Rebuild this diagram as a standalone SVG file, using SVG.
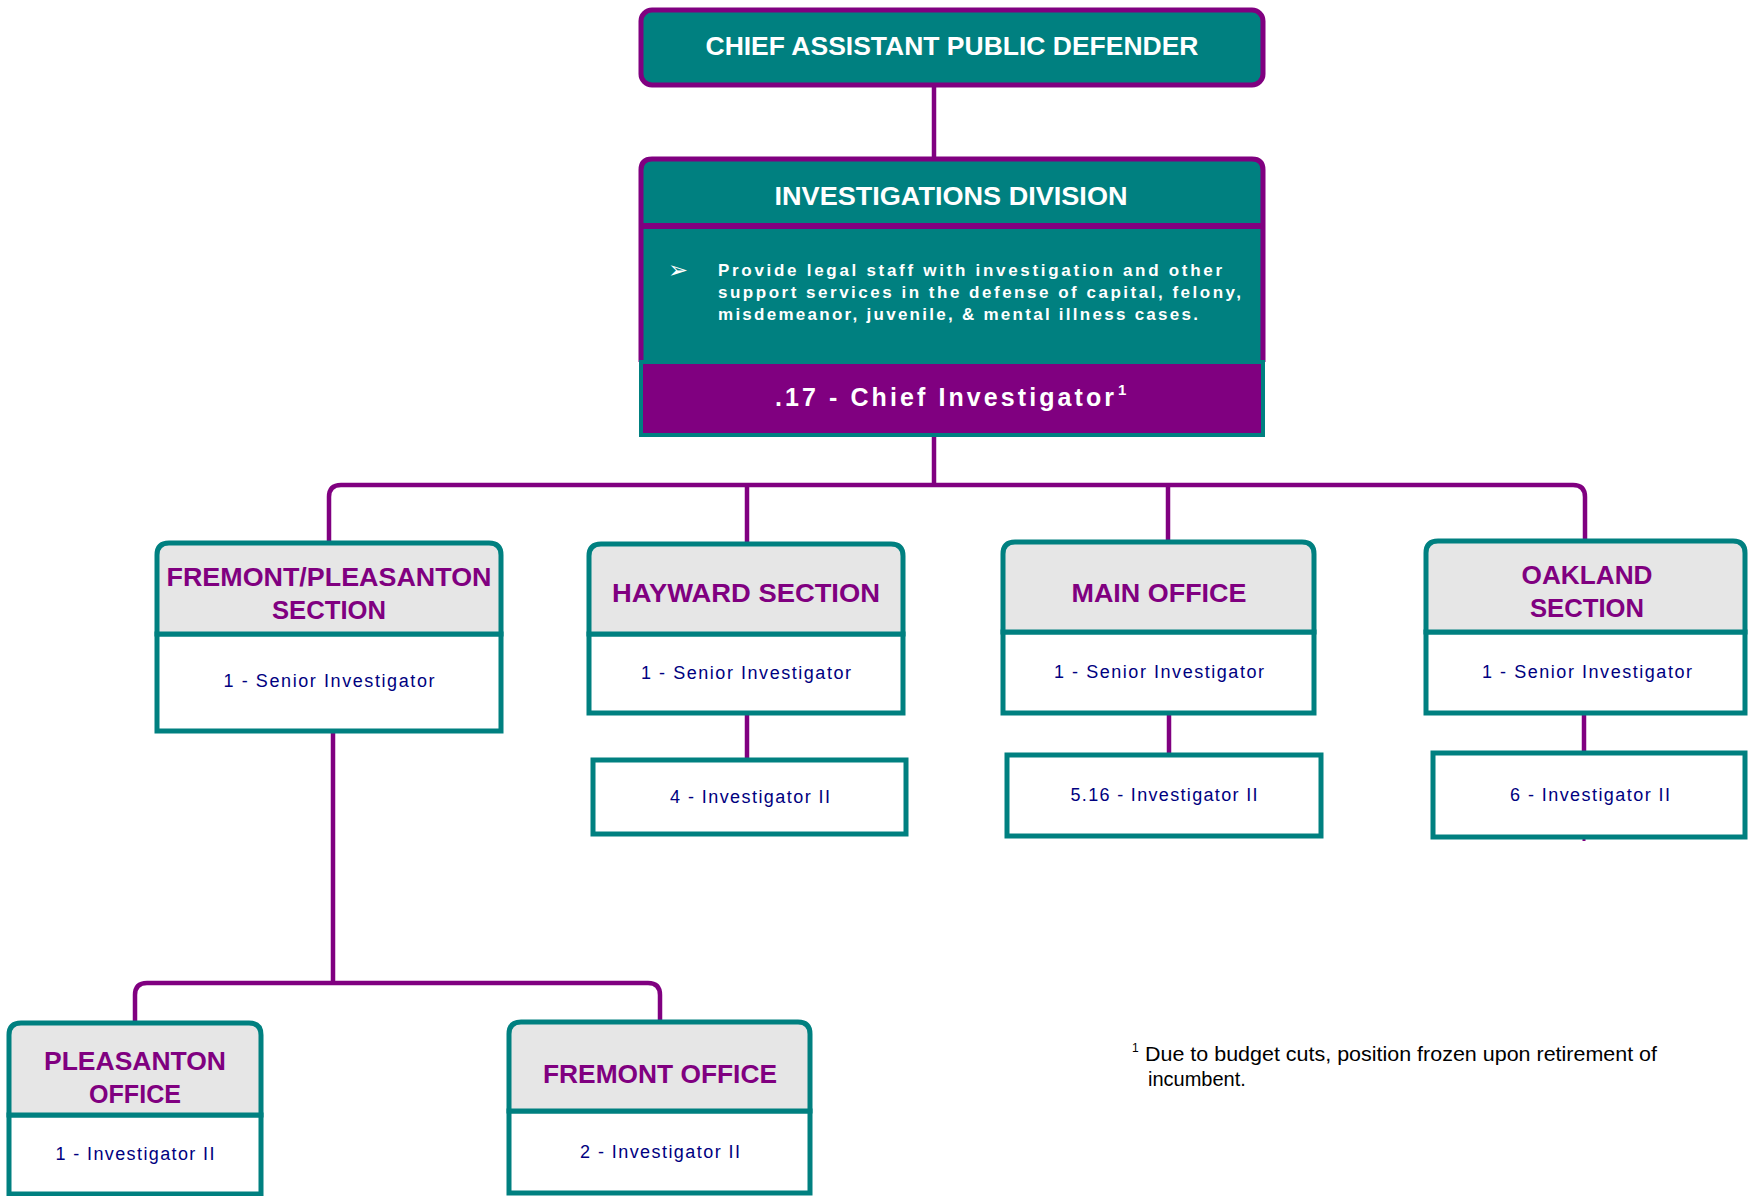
<svg xmlns="http://www.w3.org/2000/svg" width="1748" height="1196" viewBox="0 0 1748 1196">
<style>
.conn{fill:none;stroke:#800080;stroke-width:4.5}
.hdr{fill:#e6e6e6;stroke:#008080;stroke-width:5}
.body{fill:#ffffff;stroke:#008080;stroke-width:5}
.title{font-family:"Liberation Sans",Arial,sans-serif;font-weight:bold;fill:#800080;font-size:26px;text-anchor:middle}
.pos{font-family:"Liberation Sans",Arial,sans-serif;fill:#000080;font-size:18px;text-anchor:middle}
.white{font-family:"Liberation Sans",Arial,sans-serif;font-weight:bold;fill:#ffffff}
.foot{font-family:"Liberation Sans",Arial,sans-serif;fill:#000000}
</style>
<rect width="1748" height="1196" fill="#ffffff"/>
<g id="connectors">
<path class="conn" d="M934,85 V158"/>
<path class="conn" d="M934,437 V485"/>
<path class="conn" d="M329,543 V497 Q329,485 341,485 H1573 Q1585,485 1585,497 V541"/>
<path class="conn" d="M747,485 V544"/>
<path class="conn" d="M1168,485 V542"/>
<path class="conn" d="M747,713 V760"/>
<path class="conn" d="M1169,713 V755"/>
<path class="conn" d="M1584,713 V753"/>
<path class="conn" d="M1584,837 V841" style="stroke-width:3"/>
<path class="conn" d="M333,731 V983"/>
<path class="conn" d="M135,1023 V995 Q135,983 147,983 H648 Q660,983 660,995 V1022"/>
</g>
<g id="chief-assistant">
<rect x="641" y="10" width="622" height="75" rx="11" fill="#008080" stroke="#800080" stroke-width="5"/>
<text class="white" x="952" y="55" font-size="26" text-anchor="middle" textLength="493" lengthAdjust="spacingAndGlyphs">CHIEF ASSISTANT PUBLIC DEFENDER</text>
</g>
<g id="investigations-division">
<path d="M641,362 V170 Q641,159 652,159 H1252 Q1263,159 1263,170 V362" fill="#008080" stroke="#800080" stroke-width="5"/>
<line x1="641" y1="226" x2="1263" y2="226" stroke="#800080" stroke-width="6"/>
<rect x="641" y="362" width="622" height="73" fill="#800080" stroke="#008080" stroke-width="4"/>
<text class="white" x="951" y="205" font-size="26" text-anchor="middle" textLength="353" lengthAdjust="spacingAndGlyphs">INVESTIGATIONS DIVISION</text>
<text x="668" y="278" font-family="DejaVu Sans,sans-serif" font-size="24" fill="#ffffff">➢</text>
<text class="white" x="718" y="276" font-size="17" textLength="504">Provide legal staff with investigation and other</text>
<text class="white" x="718" y="298" font-size="17" textLength="523">support services in the defense of capital, felony,</text>
<text class="white" x="718" y="320" font-size="17" textLength="480">misdemeanor, juvenile, &amp; mental illness cases.</text>
<text class="white" x="775" y="406" font-size="25" textLength="339">.17 - Chief Investigator</text>
<text class="white" x="1118" y="395" font-size="15">1</text>
</g>
<g id="fremont-pleasanton-section">
<path class="body" d="M157,634 H501 V731 H157 Z"/>
<path class="hdr" d="M157,634 V555 Q157,543 169,543 H489 Q501,543 501,555 V634 Z"/>
<text class="title" x="329" y="586" textLength="325" lengthAdjust="spacingAndGlyphs">FREMONT/PLEASANTON</text>
<text class="title" x="329" y="619" textLength="114" lengthAdjust="spacingAndGlyphs">SECTION</text>
<text class="pos" x="329" y="687" textLength="211">1 - Senior Investigator</text>
</g>
<g id="hayward-section">
<path class="body" d="M589,634 H903 V713 H589 Z"/>
<path class="hdr" d="M589,634 V556 Q589,544 601,544 H891 Q903,544 903,556 V634 Z"/>
<text class="title" x="746" y="602" textLength="268" lengthAdjust="spacingAndGlyphs">HAYWARD SECTION</text>
<text class="pos" x="746" y="679" textLength="210">1 - Senior Investigator</text>
</g>
<g id="hayward-investigators">
<rect class="body" x="593" y="760" width="313" height="74"/>
<text class="pos" x="750" y="803" textLength="160">4 - Investigator II</text>
</g>
<g id="main-office">
<path class="body" d="M1003,632 H1314 V713 H1003 Z"/>
<path class="hdr" d="M1003,632 V554 Q1003,542 1015,542 H1302 Q1314,542 1314,554 V632 Z"/>
<text class="title" x="1159" y="602" textLength="175" lengthAdjust="spacingAndGlyphs">MAIN OFFICE</text>
<text class="pos" x="1159" y="678" textLength="210">1 - Senior Investigator</text>
</g>
<g id="main-investigators">
<rect class="body" x="1007" y="755" width="314" height="81"/>
<text class="pos" x="1164" y="801" textLength="187">5.16 - Investigator II</text>
</g>
<g id="oakland-section">
<path class="body" d="M1426,632 H1745 V713 H1426 Z"/>
<path class="hdr" d="M1426,632 V553 Q1426,541 1438,541 H1733 Q1745,541 1745,553 V632 Z"/>
<text class="title" x="1587" y="584" textLength="131" lengthAdjust="spacingAndGlyphs">OAKLAND</text>
<text class="title" x="1587" y="617" textLength="114" lengthAdjust="spacingAndGlyphs">SECTION</text>
<text class="pos" x="1587" y="678" textLength="210">1 - Senior Investigator</text>
</g>
<g id="oakland-investigators">
<rect class="body" x="1433" y="753" width="312" height="84"/>
<text class="pos" x="1590" y="801" textLength="160">6 - Investigator II</text>
</g>
<g id="pleasanton-office">
<path class="body" d="M9,1115 H261 V1194 H9 Z"/>
<path class="hdr" d="M9,1115 V1035 Q9,1023 21,1023 H249 Q261,1023 261,1035 V1115 Z"/>
<text class="title" x="135" y="1070" textLength="182" lengthAdjust="spacingAndGlyphs">PLEASANTON</text>
<text class="title" x="135" y="1103" textLength="92" lengthAdjust="spacingAndGlyphs">OFFICE</text>
<text class="pos" x="135" y="1160" textLength="159">1 - Investigator II</text>
</g>
<g id="fremont-office">
<path class="body" d="M509,1111 H810 V1193 H509 Z"/>
<path class="hdr" d="M509,1111 V1034 Q509,1022 521,1022 H798 Q810,1022 810,1034 V1111 Z"/>
<text class="title" x="660" y="1083" textLength="234" lengthAdjust="spacingAndGlyphs">FREMONT OFFICE</text>
<text class="pos" x="660" y="1158" textLength="160">2 - Investigator II</text>
</g>
<g id="footnote">
<text class="foot" x="1132" y="1052" font-size="12">1</text>
<text class="foot" x="1145" y="1061" font-size="20" textLength="512" lengthAdjust="spacingAndGlyphs">Due to budget cuts, position frozen upon retirement of</text>
<text class="foot" x="1148" y="1086" font-size="20">incumbent.</text>
</g>
</svg>
